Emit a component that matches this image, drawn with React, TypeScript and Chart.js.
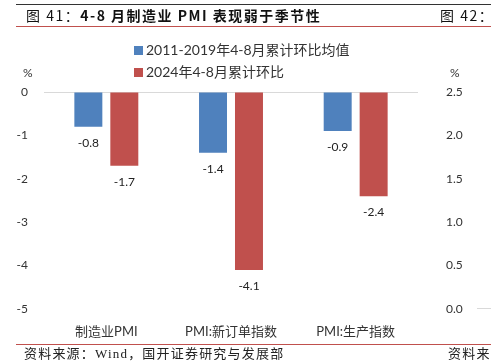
import React, { useEffect, useRef } from "react";
import { Chart, registerables } from "chart.js";

Chart.register(...registerables);

const categories = ["制造业PMI", "PMI:新订单指数", "PMI:生产指数"];
const seriesNames = ["2011-2019年4-8月累计环比均值", "2024年4-8月累计环比"];
const avgValues = [-0.8, -1.4, -0.9];
const y2024Values = [-1.7, -4.1, -2.4];
const colors = ["#4F81BD", "#C0504D"];
const leftTicks = { min: -5, max: 0, step: 1 };
const rightTicks = { min: 0, max: 2.5, step: 0.5 };

const NUM_FONT = "Lato, 'Noto Sans CJK SC', sans-serif";
const CJK_FONT = "'Noto Sans CJK SC', 'Noto Sans', sans-serif";
const SERIF_FONT = "'Liberation Serif', 'Noto Sans CJK SC', serif";

const valueLabels = {
  id: "valueLabels",
  afterDatasetsDraw(chart: any) {
    const ctx = chart.ctx;
    ctx.save();
    ctx.font = "12px " + NUM_FONT;
    ctx.fillStyle = "#222";
    ctx.textAlign = "center";
    ctx.textBaseline = "middle";
    chart.data.datasets.forEach((ds: any, i: number) => {
      const meta = chart.getDatasetMeta(i);
      meta.data.forEach((bar: any, j: number) => {
        ctx.fillText(ds.data[j].toFixed(1), bar.x, bar.y + 16);
      });
    });
    ctx.restore();
  },
};

export default function App() {
  const ref = useRef<HTMLCanvasElement>(null);
  useEffect(() => {
    const chart = new Chart(ref.current!, {
      type: "bar",
      data: {
        labels: categories,
        datasets: [
          { label: seriesNames[0], data: avgValues, backgroundColor: colors[0], yAxisID: "y", barPercentage: 0.778, categoryPercentage: 0.577 },
          { label: seriesNames[1], data: y2024Values, backgroundColor: colors[1], yAxisID: "y", barPercentage: 0.778, categoryPercentage: 0.577 },
        ],
      },
      options: {
        animation: false,
        responsive: false,
        maintainAspectRatio: false,
        layout: { padding: { top: 92, bottom: 25, left: 0, right: 0 } },
        plugins: { legend: { display: false }, tooltip: { enabled: false } },
        scales: {
          x: {
            grid: { display: false },
            border: { display: false },
            ticks: { font: { size: 13, family: NUM_FONT }, color: "#333", padding: 7, maxRotation: 0 },
            afterFit: (s: any) => { s.height = 30; },
          },
          y: {
            position: "left",
            min: leftTicks.min,
            max: leftTicks.max,
            ticks: { stepSize: leftTicks.step, font: { size: 12, family: NUM_FONT }, color: "#333", padding: 16 },
            grid: {
              drawTicks: false,
              color: (c: any) => (c.tick && c.tick.value === 0 ? "#d9d9d9" : "rgba(0,0,0,0)"),
            },
            border: { display: false },
            afterFit: (s: any) => { s.width = 44; },
          },
          y1: {
            position: "right",
            min: rightTicks.min,
            max: rightTicks.max,
            ticks: { stepSize: rightTicks.step, font: { size: 12, family: NUM_FONT }, color: "#333", padding: 28, callback: (v: any) => Number(v).toFixed(1) },
            grid: { display: false, drawTicks: false },
            border: { display: false },
            afterFit: (s: any) => { s.width = 73; },
          },
        },
      },
      plugins: [valueLabels],
    });
    return () => chart.destroy();
  }, []);

  const legendRow = (i: number, top: number) => (
    <div style={{ position: "absolute", left: 134, top, display: "flex", alignItems: "center", fontFamily: NUM_FONT, fontSize: 14, color: "#333", whiteSpace: "nowrap", lineHeight: "16px", zIndex: 2 }}>
      <span style={{ display: "inline-block", width: 9, height: 9, background: colors[i], marginRight: 3 }} />
      {seriesNames[i]}
    </div>
  );

  const abs = (s: any) => ({ position: "absolute", zIndex: 2, ...s } as React.CSSProperties);

  return (
    <div style={{ position: "fixed", left: 0, top: 0, width: 491, height: 364, background: "#fff", overflow: "hidden" }}>
      <canvas ref={ref} width={491} height={364} style={{ position: "absolute", left: 0, top: 0, zIndex: 1 }} />
      <div style={abs({ left: 16, width: 475, top: 4, height: 1, background: "#333" })} />
      <div style={abs({ left: 26, top: 6, fontFamily: CJK_FONT, fontSize: 14, color: "#111", whiteSpace: "nowrap", lineHeight: "18px", letterSpacing: "1.5px" })}>
        图 41：<span style={{ fontWeight: 700 }}>4-8 月制造业 PMI 表现弱于季节性</span>
      </div>
      <div style={abs({ left: 440, top: 6, fontFamily: CJK_FONT, fontSize: 14, color: "#111", whiteSpace: "nowrap", lineHeight: "18px", letterSpacing: "1.5px" })}>
        图 42：
      </div>
      <div style={abs({ left: 16, width: 475, top: 26, height: 1, background: "#C0504D" })} />
      {legendRow(0, 42)}
      {legendRow(1, 64)}
      <div style={abs({ left: 23, top: 65, fontFamily: NUM_FONT, fontSize: 12, color: "#333" })}>%</div>
      <div style={abs({ left: 450, top: 65, fontFamily: NUM_FONT, fontSize: 12, color: "#333" })}>%</div>
      <div style={abs({ left: 477, width: 14, top: 308, height: 1, background: "#d9d9d9" })} />
      <div style={abs({ left: 16, width: 475, top: 344, height: 1, background: "#C0504D" })} />
      <div style={abs({ left: 24, top: 346, fontFamily: SERIF_FONT, fontSize: 13, color: "#222", whiteSpace: "nowrap", lineHeight: "16px", letterSpacing: "1.2px" })}>
        资料来源：Wind，国开证券研究与发展部
      </div>
      <div style={abs({ left: 448, top: 346, fontFamily: SERIF_FONT, fontSize: 13, color: "#222", whiteSpace: "nowrap", lineHeight: "16px", letterSpacing: "1.2px" })}>
        资料来
      </div>
    </div>
  );
}
